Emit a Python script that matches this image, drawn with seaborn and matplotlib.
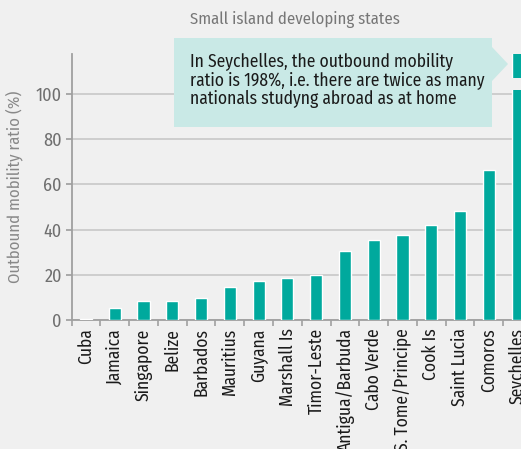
import matplotlib
matplotlib.use("Agg")
import matplotlib.pyplot as plt
import seaborn as sns
import pandas as pd
from matplotlib.patches import Rectangle, Polygon

countries = ["Cuba", "Jamaica", "Singapore", "Belize", "Barbados", "Mauritius",
             "Guyana", "Marshall Is", "Timor-Leste", "Antigua/Barbuda",
             "Cabo Verde", "S. Tome/Principe", "Cook Is", "Saint Lucia",
             "Comoros", "Seychelles"]
ratios = [0.6, 5.3, 8.5, 8.5, 9.8, 14.5, 17.2, 18.5, 19.9, 30.7,
          35.4, 37.5, 42.0, 48.1, 66.2, 198.0]
yticks = [0, 20, 40, 60, 80, 100]
title = "Small island developing states"
ylabel = "Outbound mobility ratio (%)"
note = ("In Seychelles, the outbound mobility\n"
        "ratio is 198%, i.e. there are twice as many\n"
        "nationals studyng abroad as at home")

BG = "#f0f0f0"
TEAL = "#00a99d"
BOX = "#c9e9e6"
GREY = "#6f6f6f"

sns.set_theme(style="white")
plt.rcParams["font.family"] = ["Fira Sans Condensed", "DejaVu Sans"]

df = pd.DataFrame({"country": countries, "ratio": ratios})

fig = plt.figure(figsize=(5.21, 4.49), dpi=100, facecolor=BG)
ax = fig.add_axes([71.6 / 521, 129 / 449, (532 - 71.6) / 521, 266 / 449])
ax.set_facecolor(BG)

sns.barplot(data=df, x="country", y="ratio", color=TEAL, saturation=1,
            width=0.42, ax=ax, zorder=3)

ax.set_ylim(0, 117.7)
ax.set_xlim(-0.5, len(countries) - 0.5)
ax.set_yticks(yticks)
ax.yaxis.grid(True, color="#cbcbcb", linewidth=1.3, zorder=0)
ax.set_axisbelow(True)

# break on the Seychelles bar
last = len(countries) - 1
ax.add_patch(Rectangle((last - 0.3, 101.8), 0.6, 5.4, facecolor=BG,
                       edgecolor="none", zorder=4))

for s in ["top", "right"]:
    ax.spines[s].set_visible(False)
for s in ["left", "bottom"]:
    ax.spines[s].set_color("#a0a0a0")
    ax.spines[s].set_linewidth(1.3)

ax.tick_params(axis="y", length=4, color="#a0a0a0", labelsize=13,
               labelcolor=GREY, pad=3, left=True)
ax.set_xticks(range(len(countries)))
ax.set_xticklabels(countries, rotation=90, fontsize=12.6, color="#1a1a1a")
ax.tick_params(axis="x", length=0, pad=6, bottom=True)
ax.set_xticks([i + 0.5 for i in range(-1, len(countries))], minor=True)
ax.tick_params(axis="x", which="minor", length=4, color="#a0a0a0", width=1.2,
               bottom=True)
ax.set_xlabel("")
ax.set_ylabel(ylabel, fontsize=12, color="#888888", labelpad=9)

fig.text(190 / 521, 1 - 19 / 449, title, fontsize=12, color="#777777",
         ha="left", va="center")

# annotation box with pointer
x0, x1, y0, y1 = 174 / 521, 492 / 521, 1 - 127 / 449, 1 - 38 / 449
fig.patches.append(Rectangle((x0, y0), x1 - x0, y1 - y0, transform=fig.transFigure,
                             facecolor=BOX, edgecolor="none", zorder=5))
fig.patches.append(Polygon([(492 / 521, 1 - 47 / 449), (508 / 521, 1 - 64 / 449),
                            (492 / 521, 1 - 81 / 449)], closed=True,
                           transform=fig.transFigure, facecolor=BOX,
                           edgecolor="none", zorder=5))
fig.text(190 / 521, 1 - 80.5 / 449, note, fontsize=12.6, color="#1a1a1a",
         ha="left", va="center", linespacing=1.0, zorder=6)

fig.savefig("out.png", dpi=100, facecolor=BG)
